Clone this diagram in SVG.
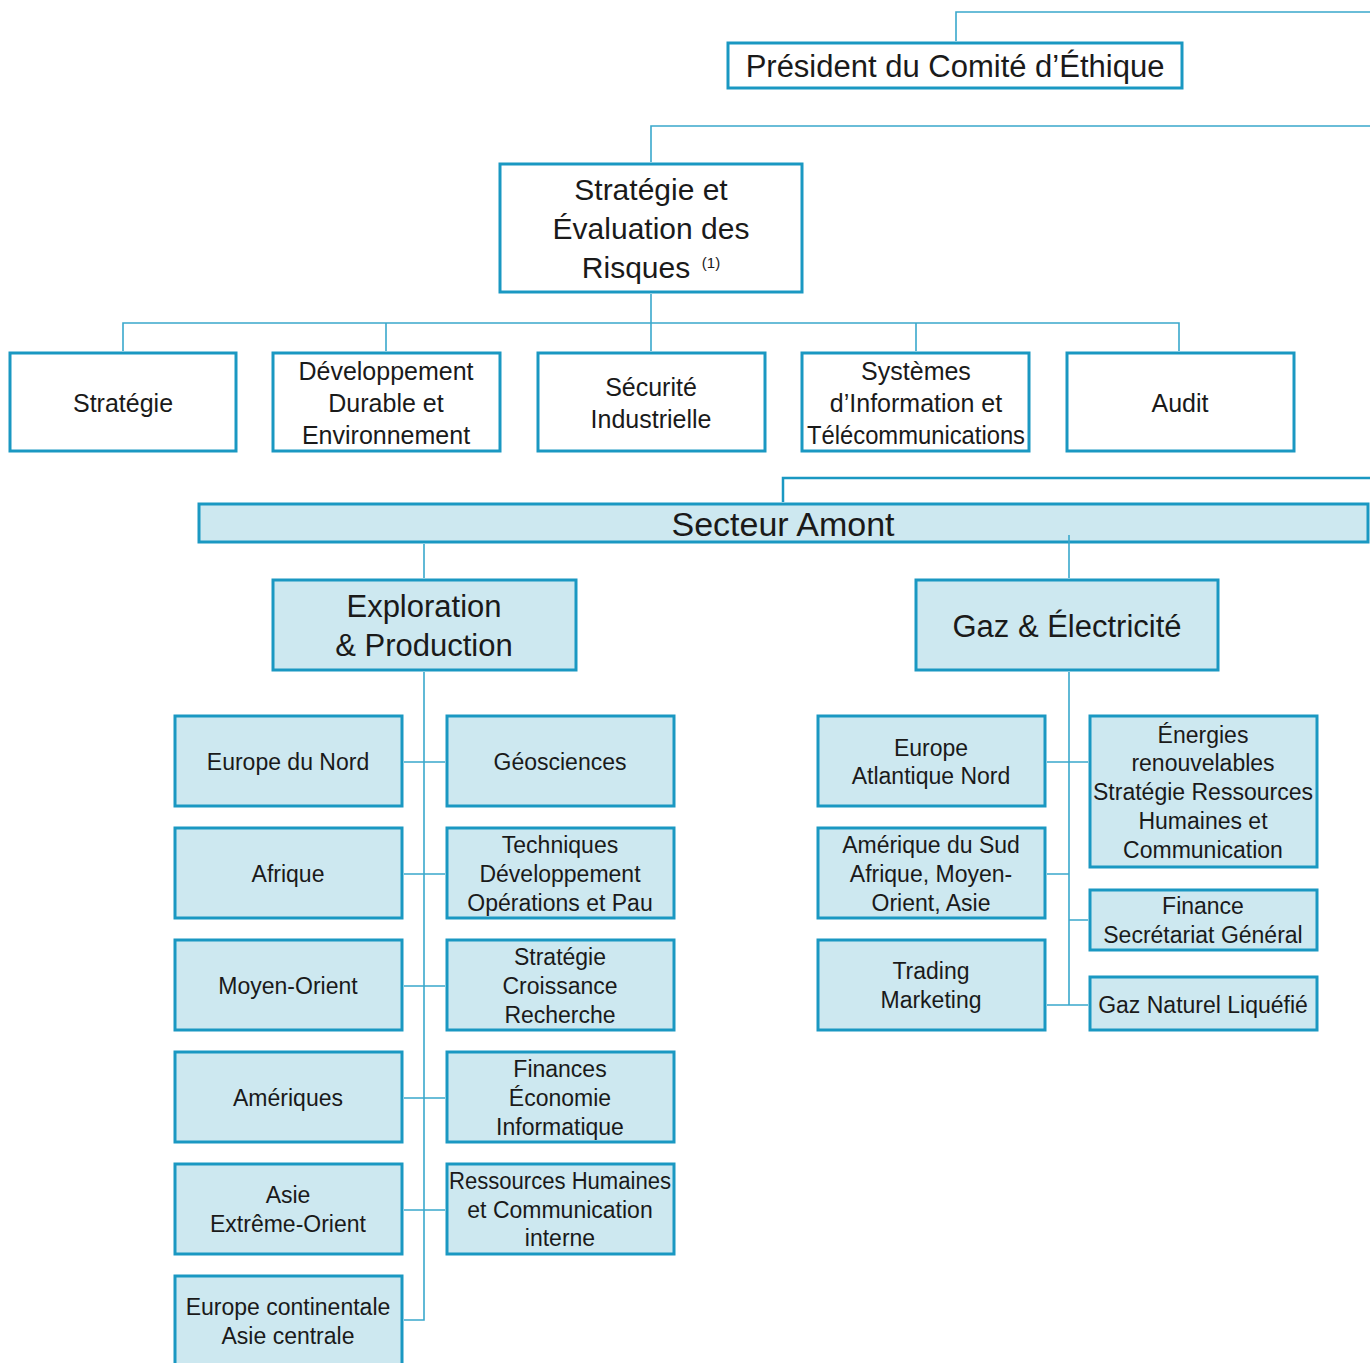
<svg xmlns="http://www.w3.org/2000/svg" width="1370" height="1363" viewBox="0 0 1370 1363">
<style>
.bw{fill:#ffffff;stroke:#1a98c2;stroke-width:3}
.bb{fill:#cde8f0;stroke:#1a98c2;stroke-width:3}
.ln{fill:none;stroke:#3aa8cc;stroke-width:1.6}
.lt{fill:none;stroke:#1a98c2;stroke-width:2.5}
text{font-family:"Liberation Sans",Arial,sans-serif;fill:#1a1a1a;text-anchor:middle}
.t30{font-size:30px}
.t31{font-size:31px}
.t34{font-size:34px}
.t25{font-size:25px}
.t23{font-size:23px}
</style>
<rect width="1370" height="1363" fill="#ffffff"/>
<g id="president"><rect class="bw" x="728" y="43" width="454" height="45"/><text class="t31" x="955" y="77">Président du Comité d’Éthique</text></g>
<g id="strategie-risques"><rect class="bw" x="500" y="164" width="302" height="128"/>
<text class="t30" x="651" y="200">Stratégie et</text><text class="t30" x="651" y="239">Évaluation des</text><text class="t30" x="636" y="278">Risques</text><text x="711" y="268" style="font-size:15px">(1)</text></g>
<g id="strategie"><rect class="bw" x="10" y="353" width="226" height="98"/><text class="t25" x="123" y="412">Stratégie</text></g>
<g id="developpement"><rect class="bw" x="273" y="353" width="227" height="98"/><text class="t25" x="386" y="380">Développement</text><text class="t25" x="386" y="412">Durable et</text><text class="t25" x="386" y="444">Environnement</text></g>
<g id="securite"><rect class="bw" x="538" y="353" width="227" height="98"/><text class="t25" x="651" y="396">Sécurité</text><text class="t25" x="651" y="428">Industrielle</text></g>
<g id="systemes"><rect class="bw" x="802" y="353" width="227" height="98"/><text class="t25" x="916" y="380">Systèmes</text><text class="t25" x="916" y="412">d’Information et</text><text class="t25" x="916" y="444" textLength="218" lengthAdjust="spacingAndGlyphs">Télécommunications</text></g>
<g id="audit"><rect class="bw" x="1067" y="353" width="227" height="98"/><text class="t25" x="1180" y="412">Audit</text></g>
<g id="secteur-amont"><rect class="bb" x="199" y="504" width="1169" height="38"/><text class="t34" x="783" y="536">Secteur Amont</text></g>
<g id="exploration"><rect class="bb" x="273" y="580" width="303" height="90"/><text class="t31" x="424" y="617">Exploration</text><text class="t31" x="424" y="656">&amp; Production</text></g>
<g id="gaz"><rect class="bb" x="916" y="580" width="302" height="90"/><text class="t31" x="1067" y="637">Gaz &amp; Électricité</text></g>
<g id="europe-nord"><rect class="bb" x="175" y="716" width="227" height="90"/><text class="t23" x="288" y="770">Europe du Nord</text></g>
<g id="afrique"><rect class="bb" x="175" y="828" width="227" height="90"/><text class="t23" x="288" y="882">Afrique</text></g>
<g id="moyen-orient"><rect class="bb" x="175" y="940" width="227" height="90"/><text class="t23" x="288" y="994">Moyen-Orient</text></g>
<g id="ameriques"><rect class="bb" x="175" y="1052" width="227" height="90"/><text class="t23" x="288" y="1106">Amériques</text></g>
<g id="asie"><rect class="bb" x="175" y="1164" width="227" height="90"/><text class="t23" x="288" y="1203">Asie</text><text class="t23" x="288" y="1232">Extrême-Orient</text></g>
<g id="europe-continentale"><rect class="bb" x="175" y="1276" width="227" height="100"/><text class="t23" x="288" y="1315">Europe continentale</text><text class="t23" x="288" y="1344">Asie centrale</text></g>
<g id="geosciences"><rect class="bb" x="447" y="716" width="227" height="90"/><text class="t23" x="560" y="770">Géosciences</text></g>
<g id="techniques"><rect class="bb" x="447" y="828" width="227" height="90"/><text class="t23" x="560" y="853">Techniques</text><text class="t23" x="560" y="882">Développement</text><text class="t23" x="560" y="911">Opérations et Pau</text></g>
<g id="strategie-croissance"><rect class="bb" x="447" y="940" width="227" height="90"/><text class="t23" x="560" y="965">Stratégie</text><text class="t23" x="560" y="994">Croissance</text><text class="t23" x="560" y="1023">Recherche</text></g>
<g id="finances"><rect class="bb" x="447" y="1052" width="227" height="90"/><text class="t23" x="560" y="1077">Finances</text><text class="t23" x="560" y="1106">Économie</text><text class="t23" x="560" y="1135">Informatique</text></g>
<g id="rh"><rect class="bb" x="447" y="1164" width="227" height="90"/><text class="t23" x="560" y="1189" textLength="222" lengthAdjust="spacingAndGlyphs">Ressources Humaines</text><text class="t23" x="560" y="1218">et Communication</text><text class="t23" x="560" y="1246">interne</text></g>
<g id="europe-atlantique"><rect class="bb" x="818" y="716" width="227" height="90"/><text class="t23" x="931" y="756">Europe</text><text class="t23" x="931" y="784">Atlantique Nord</text></g>
<g id="amerique-sud"><rect class="bb" x="818" y="828" width="227" height="90"/><text class="t23" x="931" y="853">Amérique du Sud</text><text class="t23" x="931" y="882">Afrique, Moyen-</text><text class="t23" x="931" y="911">Orient, Asie</text></g>
<g id="trading"><rect class="bb" x="818" y="940" width="227" height="90"/><text class="t23" x="931" y="979">Trading</text><text class="t23" x="931" y="1008">Marketing</text></g>
<g id="energies"><rect class="bb" x="1090" y="716" width="227" height="151"/><text class="t23" x="1203" y="743">Énergies</text><text class="t23" x="1203" y="771">renouvelables</text><text class="t23" x="1203" y="800" textLength="220" lengthAdjust="spacingAndGlyphs">Stratégie Ressources</text><text class="t23" x="1203" y="829">Humaines et</text><text class="t23" x="1203" y="858">Communication</text></g>
<g id="finance-sg"><rect class="bb" x="1090" y="890" width="227" height="60"/><text class="t23" x="1203" y="914">Finance</text><text class="t23" x="1203" y="943">Secrétariat Général</text></g>
<g id="gnl"><rect class="bb" x="1090" y="977" width="227" height="53"/><text class="t23" x="1203" y="1013">Gaz Naturel Liquéfié</text></g>
<g id="connectors">
<path class="ln" d="M956,41 V12 H1370"/>
<path class="ln" d="M651,162 V126 H1370"/>
<path class="ln" d="M651,294 V323 M123,351 V323 H1179 V351 M386,323 V351 M651,323 V351 M916,323 V351"/>
<path class="lt" d="M783,502 V478 H1370"/>
<path class="ln" d="M424,544 V578 M1069,535 V578"/>
<path class="ln" d="M424,672 V1320 H404 M404,762 H445 M404,874 H445 M404,986 H445 M404,1098 H445 M404,1210 H445"/>
<path class="ln" d="M1069,672 V1005 M1047,762 H1088 M1047,874 H1069 M1069,920 H1088 M1047,1005 H1088"/>
</g>
</svg>
